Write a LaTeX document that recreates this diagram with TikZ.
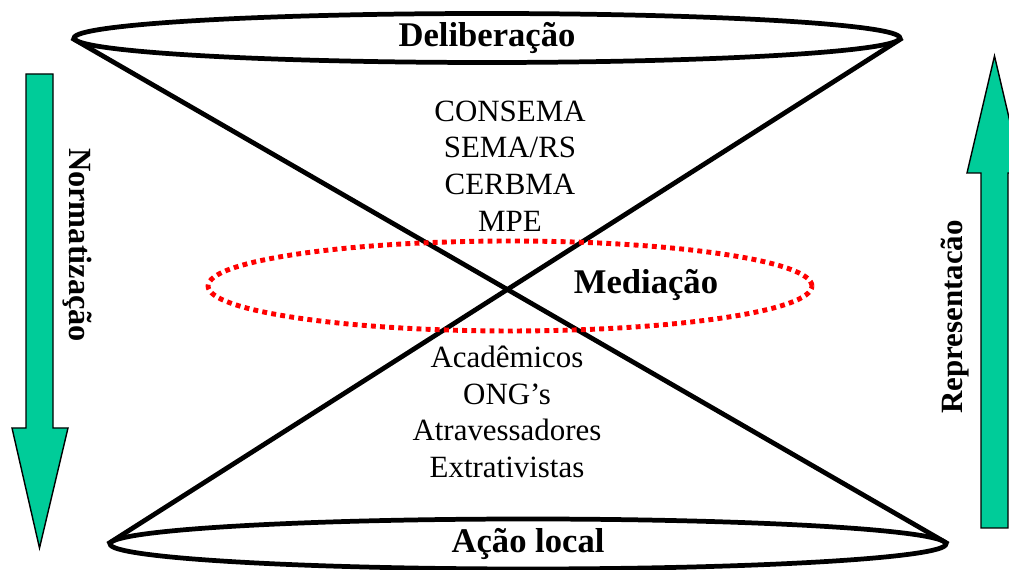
\documentclass[tikz,border=0pt]{standalone}
\usepackage{fontspec}
\setmainfont{Liberation Serif}
\usetikzlibrary{shapes.geometric}
\definecolor{verde}{RGB}{0,204,153}

\begin{document}
\begin{tikzpicture}[x=0.02cm, y=-0.02cm,
  cone/.style={line width=2.7pt},
  ring/.style={ellipse, draw, line width=2.7pt, inner sep=0pt},
  seta/.style={draw=black, line width=0.8pt, fill=verde},
  lista/.style={align=center, font=\fontsize{17.6}{20.9}\selectfont},
  rotulo/.style={font=\fontsize{19.7}{23}\selectfont\bfseries}]
\useasboundingbox (0,0) rectangle (1009,570);
\clip (0,0) rectangle (1009,570);

\node[ring, minimum width=16.52cm, minimum height=0.98cm, rotulo] (delib) at (487,38) {Deliberação};
\node[ring, minimum width=16.72cm, minimum height=1.0cm, rotulo] (local) at (528,544) {Ação local};

\draw[cone] (delib.west) -- (local.east);
\draw[cone] (delib.east) -- (local.west);

\node[ring, draw=red, line width=2.8pt, dash pattern=on 2.8pt off 2.4pt, minimum width=12.08cm, minimum height=1.8cm] (medring) at (510,286) {};
\node[rotulo] (medlabel) at (646,285) {Mediação};

\node[lista] (orgaos) at (510,166) {CONSEMA\\SEMA/RS\\CERBMA\\MPE};
\node[lista] (atores) at (507,412) {Acadêmicos\\ONG’s\\Atravessadores\\Extrativistas};

% setas laterais
\draw[seta] (26,74) -- (53,74) -- (53,428) -- (68,428) -- (39.5,548) -- (12,428) -- (26,428) -- cycle;
\draw[seta] (981,528) -- (981,173) -- (967,173) -- (994.5,56) -- (1022,173) -- (1008,173) -- (1008,528) -- cycle;

\node[font=\fontsize{18.4}{21}\selectfont\bfseries, rotate=-90] (norma) at (77,245) {Normatização};
\node[font=\fontsize{17.6}{21}\selectfont\bfseries, rotate=90] (repre) at (955,317) {Representacão};

\end{tikzpicture}
\end{document}
